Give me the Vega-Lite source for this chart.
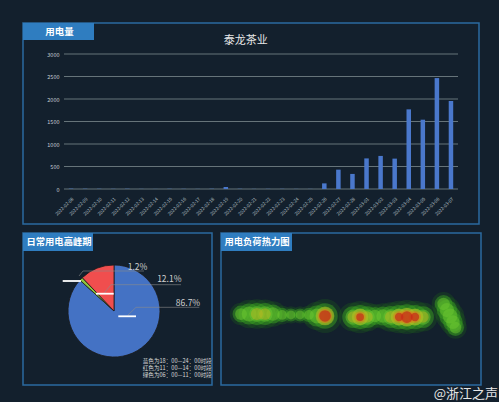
{
  "$schema": "https://vega.github.io/schema/vega-lite/v6.json",
  "background": "#13202d",
  "padding": {"left": 22, "top": 22, "right": 0, "bottom": 0},
  "config": {"font": "Noto Sans CJK SC", "view": {"stroke": null}},
  "spacing": 7,
  "vconcat": [
    {
      "width": 456,
      "height": 201,
      "view": {"stroke": "#2b6aa0", "strokeWidth": 1.5},
      "layer": [
        {
          "layer": [
            {
              "data": {"values": [{"kwh": 0}, {"kwh": 500}, {"kwh": 1000}, {"kwh": 1500}, {"kwh": 2000}, {"kwh": 2500}, {"kwh": 3000}]},
              "mark": {"type": "rule", "color": "#66747a", "strokeWidth": 1},
              "encoding": {
                "x": {"datum": 41, "type": "quantitative", "scale": {"domain": [0, 456], "nice": false, "zero": false}, "axis": null},
                "x2": {"datum": 435},
                "y": {"field": "kwh", "type": "quantitative", "scale": {"domain": [0, 3000], "nice": false, "range": [166, 31]},
                      "axis": {"title": null, "offset": -41, "values": [0, 500, 1000, 1500, 2000, 2500, 3000], "format": "d", "labelFontSize": 5.5,
                               "labelColor": "#c4ccd4", "ticks": false, "tickSize": 0, "domain": false, "labelPadding": 5, "grid": false}}
              }
            },
            {
              "data": {"values": [
                {"date": "2022-02-08", "kwh": 8}, {"date": "2022-02-09", "kwh": 6}, {"date": "2022-02-10", "kwh": 5},
                {"date": "2022-02-11", "kwh": 4}, {"date": "2022-02-12", "kwh": 6}, {"date": "2022-02-13", "kwh": 3},
                {"date": "2022-02-14", "kwh": 2}, {"date": "2022-02-15", "kwh": 5}, {"date": "2022-02-16", "kwh": 4},
                {"date": "2022-02-17", "kwh": 3}, {"date": "2022-02-18", "kwh": 6}, {"date": "2022-02-19", "kwh": 45},
                {"date": "2022-02-20", "kwh": 5}, {"date": "2022-02-21", "kwh": 3}, {"date": "2022-02-22", "kwh": 4},
                {"date": "2022-02-23", "kwh": 4}, {"date": "2022-02-24", "kwh": 3}, {"date": "2022-02-25", "kwh": 3},
                {"date": "2022-02-26", "kwh": 125}, {"date": "2022-02-27", "kwh": 430}, {"date": "2022-02-28", "kwh": 335},
                {"date": "2022-03-01", "kwh": 680}, {"date": "2022-03-02", "kwh": 735}, {"date": "2022-03-03", "kwh": 675},
                {"date": "2022-03-04", "kwh": 1770}, {"date": "2022-03-05", "kwh": 1540}, {"date": "2022-03-06", "kwh": 2465},
                {"date": "2022-03-07", "kwh": 1955}
              ]},
              "mark": {"type": "bar", "color": "#4a78cc", "width": 4.5},
              "encoding": {
                "x": {"field": "date", "type": "ordinal", "sort": null,
                      "scale": {"paddingInner": 0, "paddingOuter": 0, "range": [41, 435]},
                      "axis": {"title": null, "offset": -35, "labelAngle": -45, "labelFontSize": 4.6, "labelColor": "#b8c0c8",
                               "ticks": false, "tickSize": 0, "domain": false, "labelPadding": 7, "grid": false}},
                "y": {"field": "kwh", "type": "quantitative",
                      "scale": {"domain": [0, 3000], "nice": false, "range": [166, 31]},
                      "axis": {"title": null, "offset": -41, "values": [0, 500, 1000, 1500, 2000, 2500, 3000], "format": "d", "labelFontSize": 5.5,
                               "labelColor": "#c4ccd4", "ticks": false, "tickSize": 0, "domain": false, "labelPadding": 5, "grid": false}}
              }
            }
          ],
          "resolve": {"scale": {"x": "independent"}}
        },
        {
          "data": {"values": [{}]},
          "layer": [
            {
              "mark": {"type": "rect", "fill": "#2f7dc0"},
              "encoding": {
                "x": {"datum": 0, "type": "quantitative", "scale": {"domain": [0, 456], "nice": false, "zero": false}, "axis": null},
                "x2": {"datum": 71},
                "y": {"datum": 0, "type": "quantitative", "scale": {"domain": [0, 201], "nice": false, "zero": false, "reverse": true}, "axis": null},
                "y2": {"datum": 17}
              }
            },
            {
              "mark": {"type": "text", "fontSize": 9.5, "fontWeight": "bold", "color": "#ffffff", "align": "center", "baseline": "middle"},
              "encoding": {
                "x": {"datum": 36.5, "type": "quantitative", "scale": {"domain": [0, 456], "nice": false, "zero": false}, "axis": null},
                "y": {"datum": 8.5, "type": "quantitative", "scale": {"domain": [0, 201], "nice": false, "zero": false, "reverse": true}, "axis": null},
                "text": {"value": "用电量"}
              }
            },
            {
              "mark": {"type": "text", "fontSize": 11, "color": "#e6e6e6", "align": "center", "baseline": "middle"},
              "encoding": {
                "x": {"datum": 222.7, "type": "quantitative", "scale": {"domain": [0, 456], "nice": false, "zero": false}, "axis": null},
                "y": {"datum": 17.5, "type": "quantitative", "scale": {"domain": [0, 201], "nice": false, "zero": false, "reverse": true}, "axis": null},
                "text": {"value": "泰龙茶业"}
              }
            }
          ]
        }
      ],
      "resolve": {"scale": {"x": "independent", "y": "independent"}}
    },
    {
      "spacing": 7,
      "hconcat": [
        {
          "width": 189,
          "height": 152,
          "view": {"stroke": "#2b6aa0", "strokeWidth": 1.5},
          "data": {"values": [{}]},
          "layer": [
            {
              "mark": {"type": "rect", "fill": "#2f7dc0"},
              "encoding": {
                "x": {"datum": 0, "type": "quantitative", "scale": {"domain": [0, 189], "nice": false, "zero": false}, "axis": null},
                "x2": {"datum": 70},
                "y": {"datum": 0, "type": "quantitative", "scale": {"domain": [0, 152], "nice": false, "zero": false, "reverse": true}, "axis": null},
                "y2": {"datum": 18}
              }
            },
            {
              "mark": {"type": "text", "fontSize": 9.3, "fontWeight": "bold", "color": "#ffffff", "align": "center", "baseline": "middle"},
              "encoding": {
                "x": {"datum": 36, "type": "quantitative", "scale": {"domain": [0, 189], "nice": false, "zero": false}, "axis": null},
                "y": {"datum": 9.3, "type": "quantitative", "scale": {"domain": [0, 152], "nice": false, "zero": false, "reverse": true}, "axis": null},
                "text": {"value": "日常用电高峰期"}
              }
            },
            {
              "data": {"values": [
                {"时段": "18:00—24:00", "share": 86.7, "k": 1},
                {"时段": "06:00—11:00", "share": 1.2, "k": 2},
                {"时段": "11:00—14:00", "share": 12.1, "k": 3}
              ]},
              "mark": {"type": "arc", "radius": 46, "stroke": "#1a1a1a", "strokeWidth": 0.8},
              "encoding": {
                "theta": {"field": "share", "type": "quantitative", "stack": true},
                "order": {"field": "k", "type": "quantitative"},
                "color": {"field": "时段", "type": "nominal",
                          "scale": {"domain": ["18:00—24:00", "06:00—11:00", "11:00—14:00"], "range": ["#4472c4", "#8dc63f", "#f04e4e"]},
                          "legend": null},
                "x": {"datum": 91, "type": "quantitative", "scale": {"domain": [0, 189], "nice": false, "zero": false}, "axis": null},
                "y": {"datum": 78, "type": "quantitative", "scale": {"domain": [0, 152], "nice": false, "zero": false, "reverse": true}, "axis": null}
              }
            },
            {
              "mark": {"type": "rule", "color": "#8c8c8c", "strokeWidth": 0.6},
              "encoding": {
                "x": {"datum": 56, "type": "quantitative", "scale": {"domain": [0, 189], "nice": false, "zero": false}, "axis": null},
                "y": {"datum": 43, "type": "quantitative", "scale": {"domain": [0, 152], "nice": false, "zero": false, "reverse": true}, "axis": null},
                "x2": {"datum": 60}, "y2": {"datum": 38}
              }
            },
            {
              "mark": {"type": "rule", "color": "#8c8c8c", "strokeWidth": 0.6},
              "encoding": {
                "x": {"datum": 60, "type": "quantitative", "scale": {"domain": [0, 189], "nice": false, "zero": false}, "axis": null},
                "y": {"datum": 38, "type": "quantitative", "scale": {"domain": [0, 152], "nice": false, "zero": false, "reverse": true}, "axis": null},
                "x2": {"datum": 121}, "y2": {"datum": 38}
              }
            },
            {
              "mark": {"type": "rule", "color": "#8c8c8c", "strokeWidth": 0.6},
              "encoding": {
                "x": {"datum": 81.3, "type": "quantitative", "scale": {"domain": [0, 189], "nice": false, "zero": false}, "axis": null},
                "y": {"datum": 60, "type": "quantitative", "scale": {"domain": [0, 152], "nice": false, "zero": false, "reverse": true}, "axis": null},
                "x2": {"datum": 88}, "y2": {"datum": 51.7}
              }
            },
            {
              "mark": {"type": "rule", "color": "#8c8c8c", "strokeWidth": 0.6},
              "encoding": {
                "x": {"datum": 88, "type": "quantitative", "scale": {"domain": [0, 189], "nice": false, "zero": false}, "axis": null},
                "y": {"datum": 51.7, "type": "quantitative", "scale": {"domain": [0, 152], "nice": false, "zero": false, "reverse": true}, "axis": null},
                "x2": {"datum": 158}, "y2": {"datum": 51.7}
              }
            },
            {
              "mark": {"type": "rule", "color": "#8c8c8c", "strokeWidth": 0.6},
              "encoding": {
                "x": {"datum": 104.7, "type": "quantitative", "scale": {"domain": [0, 189], "nice": false, "zero": false}, "axis": null},
                "y": {"datum": 82.3, "type": "quantitative", "scale": {"domain": [0, 152], "nice": false, "zero": false, "reverse": true}, "axis": null},
                "x2": {"datum": 113}, "y2": {"datum": 74.3}
              }
            },
            {
              "mark": {"type": "rule", "color": "#8c8c8c", "strokeWidth": 0.6},
              "encoding": {
                "x": {"datum": 113, "type": "quantitative", "scale": {"domain": [0, 189], "nice": false, "zero": false}, "axis": null},
                "y": {"datum": 74.3, "type": "quantitative", "scale": {"domain": [0, 152], "nice": false, "zero": false, "reverse": true}, "axis": null},
                "x2": {"datum": 176.3}, "y2": {"datum": 74.3}
              }
            },
            {
              "mark": {"type": "rule", "color": "#ffffff", "strokeWidth": 1.8},
              "encoding": {
                "x": {"datum": 39.7, "type": "quantitative", "scale": {"domain": [0, 189], "nice": false, "zero": false}, "axis": null},
                "y": {"datum": 48, "type": "quantitative", "scale": {"domain": [0, 152], "nice": false, "zero": false, "reverse": true}, "axis": null},
                "x2": {"datum": 58}, "y2": {"datum": 48}
              }
            },
            {
              "mark": {"type": "rule", "color": "#ffffff", "strokeWidth": 1.8},
              "encoding": {
                "x": {"datum": 73, "type": "quantitative", "scale": {"domain": [0, 189], "nice": false, "zero": false}, "axis": null},
                "y": {"datum": 60.7, "type": "quantitative", "scale": {"domain": [0, 152], "nice": false, "zero": false, "reverse": true}, "axis": null},
                "x2": {"datum": 90.7}, "y2": {"datum": 60.7}
              }
            },
            {
              "mark": {"type": "rule", "color": "#ffffff", "strokeWidth": 1.8},
              "encoding": {
                "x": {"datum": 95.3, "type": "quantitative", "scale": {"domain": [0, 189], "nice": false, "zero": false}, "axis": null},
                "y": {"datum": 83.3, "type": "quantitative", "scale": {"domain": [0, 152], "nice": false, "zero": false, "reverse": true}, "axis": null},
                "x2": {"datum": 113}, "y2": {"datum": 83.3}
              }
            },
            {
              "mark": {"type": "text", "fontSize": 8.5, "color": "#d0d0d0", "align": "center", "baseline": "middle"},
              "encoding": {
                "x": {"datum": 114.5, "type": "quantitative", "scale": {"domain": [0, 189], "nice": false, "zero": false}, "axis": null},
                "y": {"datum": 34.3, "type": "quantitative", "scale": {"domain": [0, 152], "nice": false, "zero": false, "reverse": true}, "axis": null},
                "text": {"value": "1.2%"}
              }
            },
            {
              "mark": {"type": "text", "fontSize": 8.5, "color": "#d0d0d0", "align": "center", "baseline": "middle"},
              "encoding": {
                "x": {"datum": 146.3, "type": "quantitative", "scale": {"domain": [0, 189], "nice": false, "zero": false}, "axis": null},
                "y": {"datum": 46.3, "type": "quantitative", "scale": {"domain": [0, 152], "nice": false, "zero": false, "reverse": true}, "axis": null},
                "text": {"value": "12.1%"}
              }
            },
            {
              "mark": {"type": "text", "fontSize": 8.5, "color": "#d0d0d0", "align": "center", "baseline": "middle"},
              "encoding": {
                "x": {"datum": 165, "type": "quantitative", "scale": {"domain": [0, 189], "nice": false, "zero": false}, "axis": null},
                "y": {"datum": 69.7, "type": "quantitative", "scale": {"domain": [0, 152], "nice": false, "zero": false, "reverse": true}, "axis": null},
                "text": {"value": "86.7%"}
              }
            },
            {
              "mark": {"type": "text", "fontSize": 5.6, "color": "#d8d8d8", "align": "left", "baseline": "middle"},
              "encoding": {
                "x": {"datum": 119.7, "type": "quantitative", "scale": {"domain": [0, 189], "nice": false, "zero": false}, "axis": null},
                "y": {"datum": 128.3, "type": "quantitative", "scale": {"domain": [0, 152], "nice": false, "zero": false, "reverse": true}, "axis": null},
                "text": {"value": "蓝色为18：00—24：00时段"}
              }
            },
            {
              "mark": {"type": "text", "fontSize": 5.6, "color": "#d8d8d8", "align": "left", "baseline": "middle"},
              "encoding": {
                "x": {"datum": 119.7, "type": "quantitative", "scale": {"domain": [0, 189], "nice": false, "zero": false}, "axis": null},
                "y": {"datum": 135, "type": "quantitative", "scale": {"domain": [0, 152], "nice": false, "zero": false, "reverse": true}, "axis": null},
                "text": {"value": "红色为11：00—14：00时段"}
              }
            },
            {
              "mark": {"type": "text", "fontSize": 5.6, "color": "#d8d8d8", "align": "left", "baseline": "middle"},
              "encoding": {
                "x": {"datum": 119.7, "type": "quantitative", "scale": {"domain": [0, 189], "nice": false, "zero": false}, "axis": null},
                "y": {"datum": 142, "type": "quantitative", "scale": {"domain": [0, 152], "nice": false, "zero": false, "reverse": true}, "axis": null},
                "text": {"value": "绿色为06：00—11：00时段"}
              }
            }
          ]
        },
        {
          "width": 260,
          "height": 152,
          "view": {"stroke": "#2b6aa0", "strokeWidth": 1.5},
          "layer": [
            {
              "data": {"values": [
                {"pos": 7.7, "lvl": 46.7, "v": 0.4},
                {"pos": 10.8, "lvl": 46.7, "v": 0.5},
                {"pos": 13.8, "lvl": 46.7, "v": 0.58},
                {"pos": 16.9, "lvl": 46.7, "v": 0.56},
                {"pos": 20.0, "lvl": 46.7, "v": 0.45},
                {"pos": 23.5, "lvl": 46.1, "v": 0.35},
                {"pos": 26.9, "lvl": 46.1, "v": 0.33},
                {"pos": 30.4, "lvl": 46.1, "v": 0.33},
                {"pos": 33.8, "lvl": 46.1, "v": 0.35},
                {"pos": 36.9, "lvl": 45.4, "v": 0.5},
                {"pos": 40.0, "lvl": 45.4, "v": 0.92},
                {"pos": 50.8, "lvl": 44.7, "v": 0.55},
                {"pos": 53.5, "lvl": 44.7, "v": 0.78},
                {"pos": 56.2, "lvl": 44.7, "v": 0.55},
                {"pos": 59.2, "lvl": 45.4, "v": 0.42},
                {"pos": 62.3, "lvl": 45.4, "v": 0.45},
                {"pos": 65.4, "lvl": 44.7, "v": 0.58},
                {"pos": 68.5, "lvl": 44.7, "v": 0.8},
                {"pos": 71.5, "lvl": 44.7, "v": 0.92},
                {"pos": 74.6, "lvl": 44.7, "v": 0.8},
                {"pos": 77.7, "lvl": 44.7, "v": 0.55},
                {"pos": 85.6, "lvl": 53.3, "v": 0.42},
                {"pos": 86.9, "lvl": 49.3, "v": 0.48},
                {"pos": 88.1, "lvl": 45.4, "v": 0.5},
                {"pos": 89.2, "lvl": 41.4, "v": 0.46},
                {"pos": 90.2, "lvl": 37.8, "v": 0.4}
              ]},
              "layer": [
                {
                  "mark": {"type": "circle", "color": "#1c5a1c", "opacity": 0.35},
                  "encoding": {
                    "x": {"field": "pos", "type": "quantitative", "scale": {"domain": [0, 100], "nice": false, "zero": false}, "axis": null},
                    "y": {"field": "lvl", "type": "quantitative", "scale": {"domain": [0, 100], "nice": false, "zero": false}, "axis": null},
                    "size": {"field": "v", "type": "quantitative", "scale": {"domain": [0.33, 0.5, 0.92], "range": [300, 800, 1150]}, "legend": null}
                  }
                },
                {
                  "mark": {"type": "circle", "color": "#3a9e22", "opacity": 0.5},
                  "encoding": {
                    "x": {"field": "pos", "type": "quantitative", "scale": {"domain": [0, 100], "nice": false, "zero": false}, "axis": null},
                    "y": {"field": "lvl", "type": "quantitative", "scale": {"domain": [0, 100], "nice": false, "zero": false}, "axis": null},
                    "size": {"field": "v", "type": "quantitative", "scale": {"domain": [0.33, 0.5, 0.92], "range": [170, 450, 650]}, "legend": null}
                  }
                },
                {
                  "mark": {"type": "circle", "color": "#6cc830", "opacity": 0.5},
                  "encoding": {
                    "x": {"field": "pos", "type": "quantitative", "scale": {"domain": [0, 100], "nice": false, "zero": false}, "axis": null},
                    "y": {"field": "lvl", "type": "quantitative", "scale": {"domain": [0, 100], "nice": false, "zero": false}, "axis": null},
                    "size": {"field": "v", "type": "quantitative", "scale": {"domain": [0.33, 0.5, 0.92], "range": [80, 220, 320]}, "legend": null}
                  }
                },
                {
                  "transform": [{"filter": "datum.v >= 0.55"}],
                  "mark": {"type": "circle", "color": "#b8b820", "opacity": 0.5},
                  "encoding": {
                    "x": {"field": "pos", "type": "quantitative", "scale": {"domain": [0, 100], "nice": false, "zero": false}, "axis": null},
                    "y": {"field": "lvl", "type": "quantitative", "scale": {"domain": [0, 100], "nice": false, "zero": false}, "axis": null},
                    "size": {"field": "v", "type": "quantitative", "scale": {"domain": [0.55, 1], "range": [130, 400]}, "legend": null}
                  }
                },
                {
                  "transform": [{"filter": "datum.v >= 0.7"}],
                  "mark": {"type": "circle", "color": "#d8801c", "opacity": 0.55},
                  "encoding": {
                    "x": {"field": "pos", "type": "quantitative", "scale": {"domain": [0, 100], "nice": false, "zero": false}, "axis": null},
                    "y": {"field": "lvl", "type": "quantitative", "scale": {"domain": [0, 100], "nice": false, "zero": false}, "axis": null},
                    "size": {"field": "v", "type": "quantitative", "scale": {"domain": [0.7, 1], "range": [90, 260]}, "legend": null}
                  }
                },
                {
                  "transform": [{"filter": "datum.v >= 0.78"}],
                  "mark": {"type": "circle", "color": "#c82818", "opacity": 0.7},
                  "encoding": {
                    "x": {"field": "pos", "type": "quantitative", "scale": {"domain": [0, 100], "nice": false, "zero": false}, "axis": null},
                    "y": {"field": "lvl", "type": "quantitative", "scale": {"domain": [0, 100], "nice": false, "zero": false}, "axis": null},
                    "size": {"field": "v", "type": "quantitative", "scale": {"domain": [0.78, 1], "range": [60, 180]}, "legend": null}
                  }
                }
              ],
              "resolve": {"scale": {"size": "independent"}}
            },
            {
              "data": {"values": [{}]},
              "layer": [
                {
                  "mark": {"type": "rect", "fill": "#2f7dc0"},
                  "encoding": {
                    "x": {"datum": 0, "type": "quantitative", "scale": {"domain": [0, 260], "nice": false, "zero": false}, "axis": null},
                    "x2": {"datum": 71},
                    "y": {"datum": 0, "type": "quantitative", "scale": {"domain": [0, 152], "nice": false, "zero": false, "reverse": true}, "axis": null},
                    "y2": {"datum": 18}
                  }
                },
                {
                  "mark": {"type": "text", "fontSize": 9.3, "fontWeight": "bold", "color": "#ffffff", "align": "center", "baseline": "middle"},
                  "encoding": {
                    "x": {"datum": 36, "type": "quantitative", "scale": {"domain": [0, 260], "nice": false, "zero": false}, "axis": null},
                    "y": {"datum": 9.3, "type": "quantitative", "scale": {"domain": [0, 152], "nice": false, "zero": false, "reverse": true}, "axis": null},
                    "text": {"value": "用电负荷热力图"}
                  }
                },
                {
                  "mark": {"type": "text", "fontSize": 13, "color": "#e6e6e6", "align": "right", "baseline": "middle"},
                  "encoding": {
                    "x": {"datum": 277, "type": "quantitative", "scale": {"domain": [0, 260], "nice": false, "zero": false}, "axis": null},
                    "y": {"datum": 161, "type": "quantitative", "scale": {"domain": [0, 152], "nice": false, "zero": false, "reverse": true}, "axis": null},
                    "text": {"value": "@浙江之声"}
                  }
                }
              ]
            }
          ],
          "resolve": {"scale": {"x": "independent", "y": "independent"}}
        }
      ]
    }
  ]
}
